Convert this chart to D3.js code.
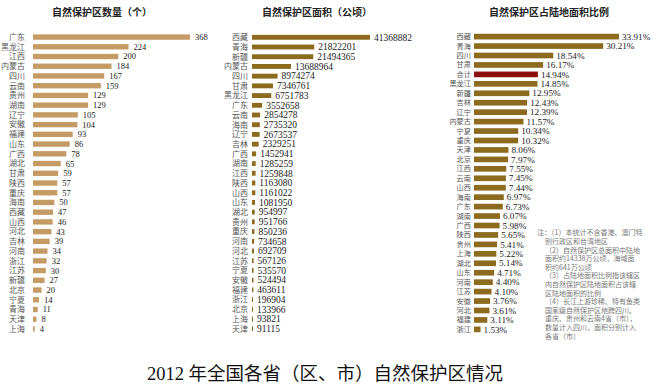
<!DOCTYPE html>
<html>
<head>
<meta charset="utf-8">
<script src="https://cdn.jsdelivr.net/npm/d3@7"></script>
<style>
  body { margin: 0; background: #fff; }
  svg { display: block; }
</style>
</head>
<body>
<script>
// panel 1: number of reserves
const countNames = ["广东","黑龙江","江西","内蒙古","四川","云南","贵州","湖南","辽宁","安徽","福建","山东","广西","湖北","甘肃","陕西","重庆","海南","西藏","山西","河北","吉林","河南","浙江","江苏","新疆","北京","宁夏","青海","天津","上海"];
const countValues = [368,224,200,184,167,159,129,129,105,104,93,86,78,65,59,57,57,50,47,46,43,39,34,32,30,27,20,14,11,8,4];

// panel 2: area (hectares)
const areaNames = ["西藏","青海","新疆","内蒙古","四川","甘肃","黑龙江","广东","云南","海南","辽宁","吉林","广西","湖南","江西","陕西","山西","山东","湖北","贵州","重庆","河南","河北","江苏","宁夏","安徽","福建","浙江","北京","上海","天津"];
const areaValues = [41368882,21822201,21494365,13688964,8974274,7346761,6751783,3552658,2854278,2735320,2673537,2329251,1452941,1285259,1259848,1163080,1161022,1081950,954997,951766,850236,734658,692709,567126,535570,524494,463611,196904,133966,93821,91115];

// panel 3: share of land area (%)
const ratioNames = ["西藏","青海","四川","甘肃","合计","黑龙江","新疆","吉林","辽宁","内蒙古","宁夏","重庆","天津","北京","江西","云南","山西","海南","广东","湖南","广西","陕西","贵州","上海","湖北","山东","河南","江苏","安徽","河北","福建","浙江"];
const ratioValues = [33.91,30.21,18.54,16.17,14.94,14.85,12.95,12.43,12.39,11.57,10.34,10.32,8.06,7.97,7.55,7.45,7.44,6.97,6.73,6.07,5.98,5.65,5.41,5.22,5.14,4.71,4.40,4.10,3.76,3.61,3.11,1.53];

const titles = ["自然保护区数量（个）", "自然保护区面积（公顷）", "自然保护区占陆地面积比例"];
const mainTitle = "2012 年全国各省（区、市）自然保护区情况";
const notes = [
  "注：（1）本统计不含香港、澳门特",
  "别行政区和台湾地区",
  "（2）自然保护区总面积中陆地",
  "面积约14338万公顷，海域面",
  "积约641万公顷",
  "（3）占陆地面积比例指该辖区",
  "内自然保护区陆地面积占该辖",
  "区陆地面积的比例",
  "（4）长江上游珍稀、特有鱼类",
  "国家级自然保护区地跨四川、",
  "重庆、贵州和云南4省（市），",
  "数量计入四川，面积分别计入",
  "各省（市）"
];

const width = 659, height = 388;
const cjk = "'Noto Sans CJK SC', sans-serif";
const serif = "'Liberation Serif', 'DejaVu Serif', serif";

const svg = d3.select("body").append("svg")
    .attr("width", width)
    .attr("height", height);

function panel(names, values, o) {
    const y = d3.scaleBand().domain(names).range([30, 336]).padding(o.pad);
    const x = d3.scaleLinear().domain([0, d3.max(values)]).range([o.x0, o.x1]);
    const g = svg.append("g");

    g.append("text")
        .attr("x", o.tx).attr("y", 16)
        .attr("text-anchor", "middle")
        .style("font-family", cjk).style("font-weight", "bold")
        .style("font-size", "10px").attr("fill", "#222")
        .text(o.title);

    const rows = g.selectAll("g.row").data(names.map((n, i) => ({n, v: values[i]})))
        .enter().append("g").attr("class", "row");

    rows.append("rect")
        .attr("x", x(0))
        .attr("y", d => y(d.n))
        .attr("width", d => Math.max(1, x(d.v) - x(0)))
        .attr("height", y.bandwidth())
        .attr("fill", d => d.n === "合计" ? "#8b0f0f" : o.color);

    rows.append("text")
        .attr("x", x(0) - o.lgap)
        .attr("y", d => y(d.n) + y.bandwidth() / 2)
        .attr("dy", "0.35em")
        .attr("text-anchor", "end")
        .style("font-family", cjk).style("font-size", o.lsize)
        .attr("fill", "#555")
        .text(d => d.n);

    rows.append("text")
        .attr("x", d => Math.max(x(d.v), x(0) + 1) + o.vgap)
        .attr("y", d => y(d.n) + y.bandwidth() / 2)
        .attr("dy", "0.35em")
        .style("font-family", serif).style("font-size", o.vsize)
        .attr("fill", "#222")
        .text(d => o.fmt(d.v));
}

panel(countNames, countValues, {
    x0: 33, x1: 190, pad: 0.45, color: "#c49b64", lgap: 8, vgap: 5,
    lsize: "8px", vsize: "8.5px", tx: 102, title: titles[0], fmt: v => v
});
panel(areaNames, areaValues, {
    x0: 252, x1: 370, pad: 0.5, color: "#8c6b1f", lgap: 4, vgap: 4,
    lsize: "8px", vsize: "9.5px", tx: 317, title: titles[1], fmt: v => v
});
panel(ratioNames, ratioValues, {
    x0: 474, x1: 619, pad: 0.4, color: "#8c6b1f", lgap: 3, vgap: 3,
    lsize: "7.2px", vsize: "9.2px", tx: 549, title: titles[2], fmt: v => v.toFixed(2) + "%"
});

// notes
svg.append("g").selectAll("text").data(notes).enter().append("text")
    .attr("x", (d, i) => i === 0 ? 537 : 545)
    .attr("y", (d, i) => 233 + i * 8.6)
    .attr("dy", "0.35em")
    .style("font-family", cjk).style("font-size", "7px")
    .attr("fill", "#777")
    .text(d => d);

svg.append("text")
    .attr("x", 325).attr("y", 380)
    .attr("text-anchor", "middle")
    .style("font-family", "'Liberation Serif', 'Noto Sans CJK SC', serif")
    .style("font-size", "18.5px").attr("fill", "#111")
    .text(mainTitle);
</script>
</body>
</html>
